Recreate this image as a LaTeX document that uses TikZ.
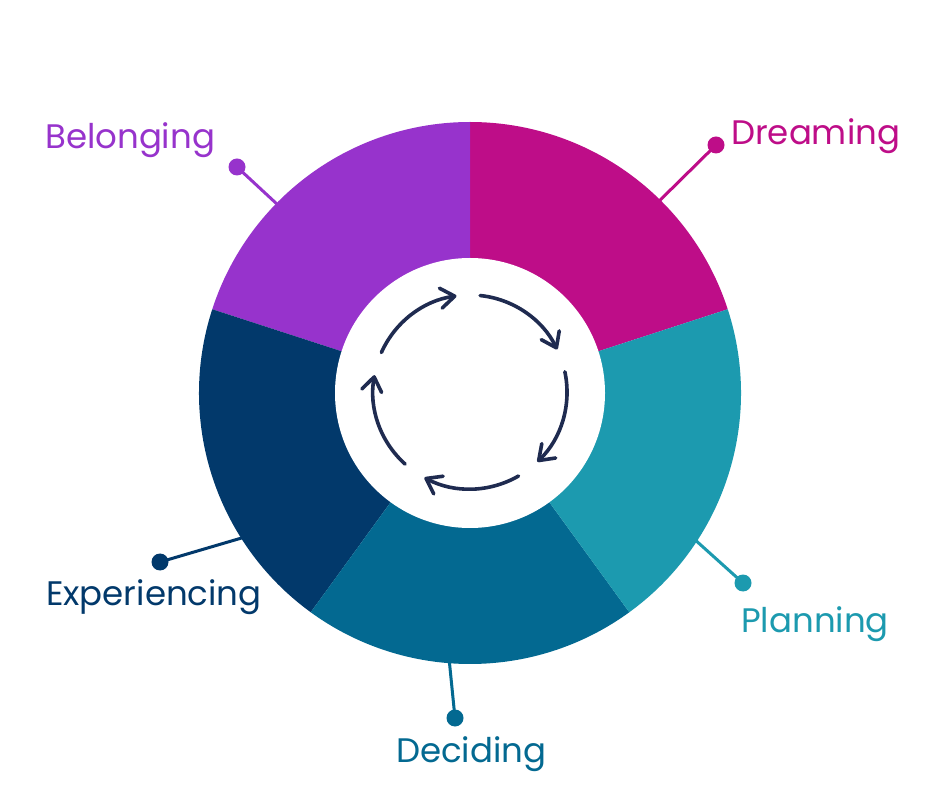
\documentclass[tikz,border=0pt]{standalone}
\usepackage{fontspec}
\setmainfont{Poppins}
\usetikzlibrary{arrows.meta}
\definecolor{cDream}{HTML}{BE0D88}
\definecolor{cBelong}{HTML}{9733CC}
\definecolor{cPlan}{HTML}{1C9AAF}
\definecolor{cDecide}{HTML}{036991}
\definecolor{cExp}{HTML}{02396B}
\definecolor{cArrow}{HTML}{1F2B50}
\begin{document}
\begin{tikzpicture}[x=1pt,y=1pt,
  leader/.style={line width=3pt},
  dot/.style={circle,inner sep=0pt,minimum size=17pt},
  lbl/.style={anchor=base west,inner sep=0pt,font=\fontsize{34}{40}\selectfont},
  cyc/.style={draw=cArrow,line width=3.6pt,line cap=round,line join=round,
    -{Straight Barb[length=14pt,width=20pt,line width=3.6pt,round]}}]
\useasboundingbox (0,0) rectangle (940,788);
\fill[white] (0,0) rectangle (940,788);
\coordinate (C) at (470,395);
\coordinate (A) at (470,396);
% leader lines
\node[dot,fill=cDream]  (dDream)  at (716,643) {};
\node[dot,fill=cBelong] (dBelong) at (237,621) {};
\node[dot,fill=cExp]    (dExp)    at (160,226) {};
\node[dot,fill=cPlan]   (dPlan)   at (743,205) {};
\node[dot,fill=cDecide] (dDecide) at (455,70) {};
\coordinate (eDream)  at (645,573);
\coordinate (eBelong) at (292,570);
\coordinate (eExp)    at (262,256);
\coordinate (ePlan)   at (683,259);
\coordinate (eDecide) at (448,140);
\draw[leader,cDream]  (dDream.center)  -- (eDream);
\draw[leader,cBelong] (dBelong.center) -- (eBelong);
\draw[leader,cExp]    (dExp.center)    -- (eExp);
\draw[leader,cPlan]   (dPlan.center)   -- (ePlan);
\draw[leader,cDecide] (dDecide.center) -- (eDecide);
% ring segments
\fill[cDream]  (C) -- ++(18:271)  arc[start angle=18,  end angle=90,  radius=271] -- cycle;
\fill[cBelong] (C) -- ++(90:271)  arc[start angle=90,  end angle=162, radius=271] -- cycle;
\fill[cExp]    (C) -- ++(162:271) arc[start angle=162, end angle=234, radius=271] -- cycle;
\fill[cDecide] (C) -- ++(234:271) arc[start angle=234, end angle=306, radius=271] -- cycle;
\fill[cPlan]   (C) -- ++(306:271) arc[start angle=306, end angle=378, radius=271] -- cycle;
\fill[white] (C) circle[radius=135];
% cycle arrows
\foreach \k in {0,...,4}{
  \draw[cyc] (A) ++({156-72*\k}:97) arc[start angle={156-72*\k}, end angle={98-72*\k}, radius=97];
}
% labels
\node[lbl,text=cDream]  (tDream)  at (731,643) {Dreaming};
\node[lbl,text=cBelong] (tBelong) at (45,639)  {Belonging};
\node[lbl,text=cExp]    (tExp)    at (46,183)  {Experiencing};
\node[lbl,text=cPlan]   (tPlan)   at (741,156) {Planning};
\node[lbl,text=cDecide] (tDecide) at (396,26)  {Deciding};
\end{tikzpicture}
\end{document}
